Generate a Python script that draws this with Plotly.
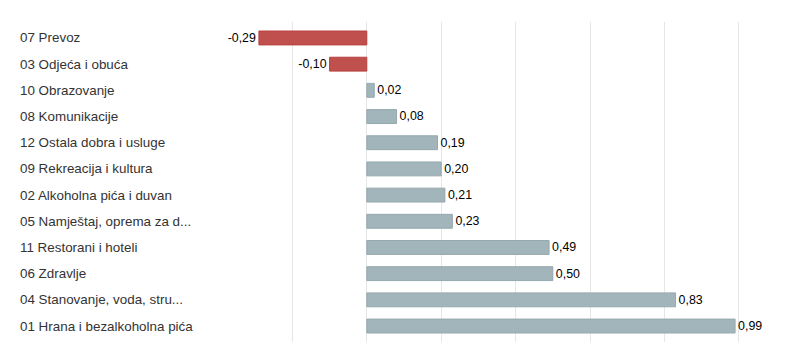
import plotly.graph_objects as go

categories = [
    "07 Prevoz",
    "03 Odjeća i obuća",
    "10 Obrazovanje",
    "08 Komunikacije",
    "12 Ostala dobra i usluge",
    "09 Rekreacija i kultura",
    "02 Alkoholna pića i duvan",
    "05 Namještaj, oprema za d...",
    "11 Restorani i hoteli",
    "06 Zdravlje",
    "04 Stanovanje, voda, stru...",
    "01 Hrana i bezalkoholna pića",
]
values = [-0.29, -0.10, 0.02, 0.08, 0.19, 0.20, 0.21, 0.23, 0.49, 0.50, 0.83, 0.99]

NEG = "#C0504E"
POS = "#A2B5BB"
colors = [NEG if v < 0 else POS for v in values]
lines = ["#B8413F" if v < 0 else "#94A9AF" for v in values]

fig = go.Figure(go.Bar(
    x=values,
    y=categories,
    orientation="h",
    marker=dict(color=colors, line=dict(color=lines, width=1)),
    text=values,
    texttemplate="%{x:.2f}",
    textposition="outside",
    cliponaxis=False,
    textfont=dict(family="Liberation Sans, Arial, sans-serif", size=12.5, color="#000000"),
    hoverinfo="skip",
))

for c in categories:
    fig.add_annotation(
        x=0, xref="paper", y=c, yref="y",
        text=c, showarrow=False, xanchor="left", xshift=-200,
        font=dict(family="Liberation Sans, Arial, sans-serif", size=13.4, color="#333333"),
    )

n = len(categories)
fig.update_layout(
    width=800, height=346,
    margin=dict(l=218, r=24, t=22, b=4),
    paper_bgcolor="white",
    plot_bgcolor="white",
    separators=",.",
    bargap=0.47,
    showlegend=False,
    xaxis=dict(
        range=[-0.4, 1.1],
        dtick=0.2,
        tick0=0,
        showgrid=True,
        gridcolor="#E6E6E6",
        gridwidth=1,
        zeroline=True,
        zerolinecolor="#E6E6E6",
        zerolinewidth=1,
        showticklabels=False,
        showline=False,
        fixedrange=True,
    ),
    yaxis=dict(
        categoryorder="array",
        categoryarray=categories,
        range=[n - 1 + 0.61, -0.61],
        showticklabels=False,
        showgrid=False,
        showline=False,
        fixedrange=True,
    ),
)

fig.write_html("out.html")
